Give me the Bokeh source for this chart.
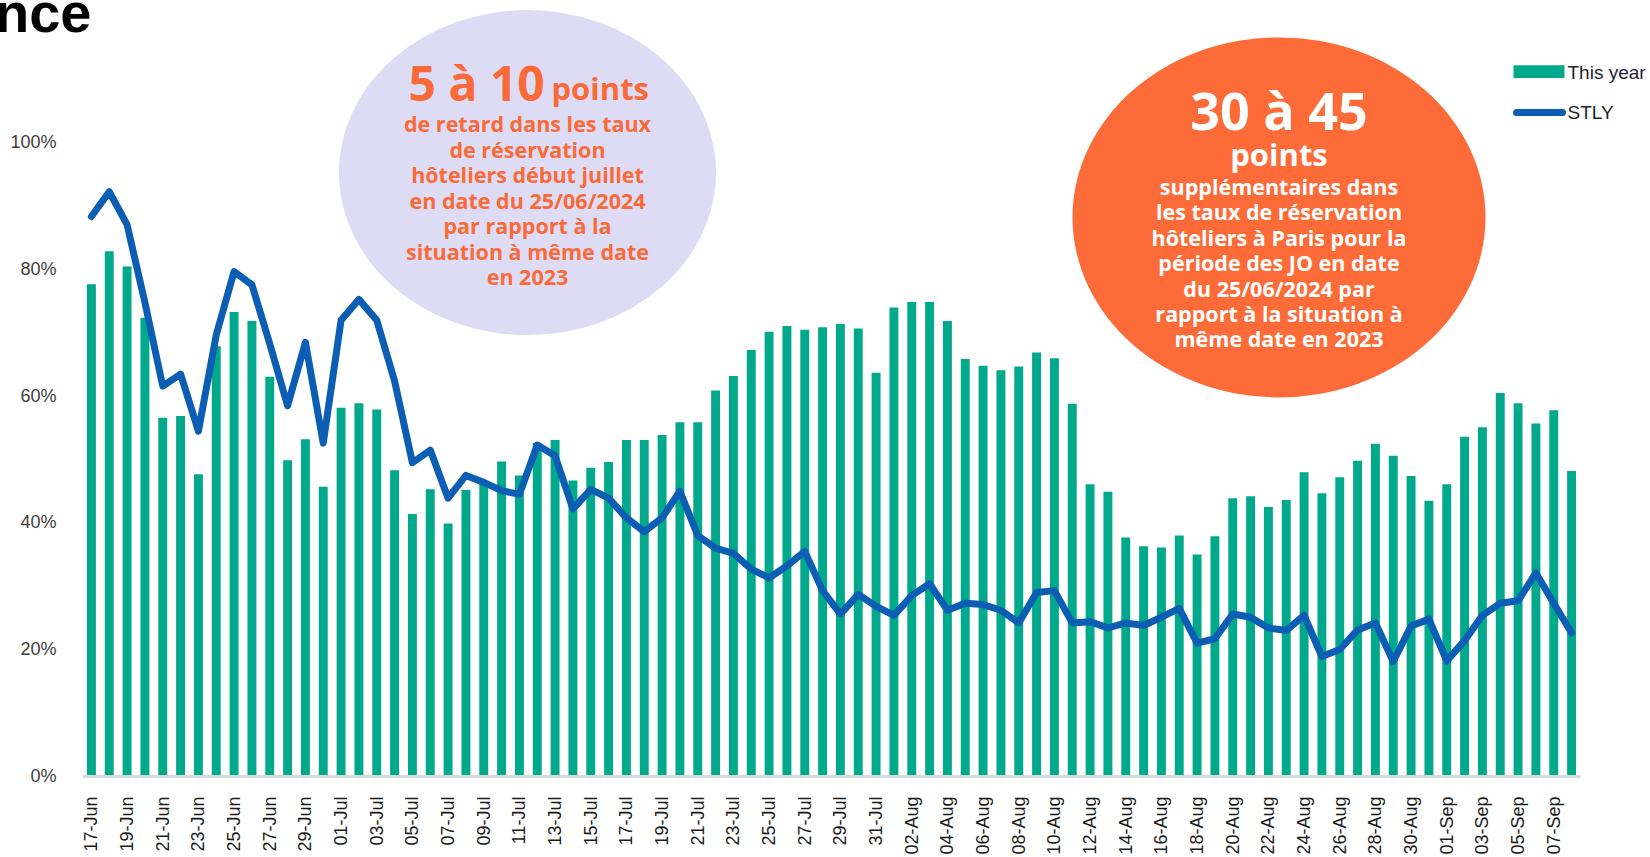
import math
from bokeh.plotting import figure
from bokeh.models import (ColumnDataSource, Range1d, FixedTicker, PrintfTickFormatter, Label,
                          GridBox, Div)
from bokeh.embed import file_html
from bokeh.resources import INLINE

# ---------------- data ----------------
dates = (
    [f"{d:02d}-Jun" for d in range(17, 31)]
    + [f"{d:02d}-Jul" for d in range(1, 32)]
    + [f"{d:02d}-Aug" for d in range(1, 32)]
    + [f"{d:02d}-Sep" for d in range(1, 9)]
)

this_year = [
    77.6, 82.8, 80.4, 72.3, 56.5, 56.8, 47.6, 67.8, 73.2, 71.8, 63.0, 49.8, 53.1, 45.6,
    58.1, 58.8, 57.8, 48.2, 41.3, 45.2, 39.8, 45.1, 46.3, 49.6, 47.4, 52.5, 53.0, 46.6,
    48.6, 49.5, 53.0, 53.0, 53.8, 55.8, 55.8, 60.8, 63.1, 67.2, 70.1, 71.0, 70.4, 70.8,
    71.3, 70.6, 63.6,
    73.9, 74.8, 74.8, 71.8, 65.8, 64.7, 64.0, 64.6, 66.8, 65.9, 58.7, 46.0, 44.8, 37.6,
    36.2, 36.0, 37.9, 34.9, 37.8, 43.8, 44.1, 42.4, 43.5, 47.9, 44.6, 47.1, 49.7, 52.4,
    50.5, 47.3, 43.4,
    46.0, 53.5, 55.0, 60.4, 58.8, 55.6, 57.7, 48.1,
]

stly = [
    88.3, 92.2, 87.0, 74.7, 61.5, 63.4, 54.4, 69.6, 79.6, 77.5, 68.2, 58.4, 68.4, 52.5,
    71.9, 75.2, 71.9, 62.3, 49.4, 51.4, 43.8, 47.4, 46.3, 45.0, 44.4, 52.2, 50.5, 42.1,
    45.2, 43.8, 40.7, 38.5, 40.7, 44.9, 37.9, 35.9, 35.1, 32.6, 31.2, 33.1, 35.4, 29.2,
    25.5, 28.6, 26.7,
    25.3, 28.4, 30.3, 26.1, 27.2, 27.0, 26.1, 24.1, 28.9, 29.2, 24.1, 24.3, 23.3, 24.1,
    23.7, 25.0, 26.4, 20.9, 21.6, 25.5, 25.0, 23.3, 22.9, 25.3, 18.8, 19.9, 23.0, 24.1,
    18.0, 23.6, 24.7,
    18.1, 21.3, 25.3, 27.2, 27.6, 32.0, 27.2, 22.5,
]

y_ticks = [0, 20, 40, 60, 80, 100]
series_names = ["This year", "STLY"]

GREEN = "#00A98B"
BLUE = "#0B5EB3"
ORANGE = "#FD6B38"
LAVENDER = "#DEDCF4"
ORANGE_TXT = "#F96A38"

idx = list(range(len(dates)))
src = ColumnDataSource(dict(x=idx, d=dates, ty=this_year, st=stly))

# ---------------- geometry helpers (page pixel -> data) ----------------
W, H = 1650, 857
FRAME_L = 82.0          # page x of the category axis start
AXIS_END = 1580.0       # page x of the category axis end
ZERO_Y = 779.0          # page y of 0 %
FRAME_B = 782.0
N = len(dates)
PX_PER_CAT = (AXIS_END - FRAME_L) / N
PX_PER_PCT = 6.364


def X(px):
    return -0.5 + (px - FRAME_L) / PX_PER_CAT


def Y(py):
    return (ZERO_Y - py) / PX_PER_PCT


p = figure(
    width=W, height=H,
    x_range=Range1d(-0.5, X(W)), y_range=Range1d(Y(FRAME_B), Y(0)),
    output_backend="svg", toolbar_location=None,
    min_border_left=int(FRAME_L), min_border_right=0,
    min_border_top=0, min_border_bottom=int(H - FRAME_B),
)
p.outline_line_color = None
p.xgrid.grid_line_color = None
p.ygrid.grid_line_color = None
p.background_fill_color = "white"

# ---------------- callout bubbles ----------------
p.ellipse(x=X(527), y=Y(173), width=377, height=325, width_units="screen",
          height_units="screen", fill_color=LAVENDER, line_color=None)
p.ellipse(x=X(1278.5), y=Y(218), width=413, height=360, width_units="screen",
          height_units="screen", fill_color=ORANGE, line_color=None)

# ---------------- bars & line ----------------
p.vbar(x="x", top="ty", width=0.5, bottom=0, source=src, fill_color=GREEN, line_color=None)
p.line(x="x", y="st", source=src, line_color=BLUE, line_width=7,
       line_join="round", line_cap="round")
# category-axis base line (only as long as the categories)
p.segment(x0=[-0.5], x1=[N - 0.5], y0=[Y(ZERO_Y + 1)], y1=[Y(ZERO_Y + 1)],
          line_color="#D9D9D9", line_width=3)

# ---------------- axes ----------------
xa = p.xaxis[0]
xa.ticker = FixedTicker(ticks=list(range(0, N, 2)))
xa.major_label_overrides = {i: dates[i] for i in range(0, N, 2)}
xa.major_label_orientation = math.pi / 2
xa.axis_line_color = None
xa.major_tick_line_color = None
xa.minor_tick_line_color = None
xa.major_label_text_font = "Liberation Sans"
xa.major_label_text_font_size = "18px"
xa.major_label_text_color = "#1A1A1A"
xa.major_label_standoff = 12

ya = p.yaxis[0]
ya.ticker = FixedTicker(ticks=y_ticks)
ya.formatter = PrintfTickFormatter(format="%d%%")
ya.axis_line_color = None
ya.major_tick_line_color = None
ya.minor_tick_line_color = None
ya.major_label_text_font = "Liberation Sans"
ya.major_label_text_font_size = "18px"
ya.major_label_text_color = "#404040"
ya.major_label_standoff = 20

# ---------------- legend (drawn) ----------------
p.quad(left=X(1513), right=X(1564), top=Y(65), bottom=Y(78), fill_color=GREEN, line_color=None)
p.line(x=[X(1516), X(1562)], y=[Y(112.5), Y(112.5)], line_color=BLUE, line_width=7, line_cap="round")
for name, ly in zip(series_names, [72, 113]):
    p.add_layout(Label(x=X(1567), y=Y(ly), text=name, text_font="Liberation Sans",
                       text_font_size="19px", text_color="#1F1F2E", text_baseline="middle",
                       text_align="left"))

# ---------------- bubble texts ----------------
FONT = "Open Sans"
p.add_layout(Label(x=X(408), y=Y(82), text="5 à 10", text_font=FONT, text_font_style="bold",
                   text_font_size="48px", text_color=ORANGE_TXT, text_align="left",
                   text_baseline="middle"))
p.add_layout(Label(x=X(551), y=Y(88), text="points", text_font=FONT, text_font_style="bold",
                   text_font_size="31px", text_color=ORANGE_TXT, text_align="left",
                   text_baseline="middle"))
lav_lines = ["de retard dans les taux", "de réservation", "hôteliers début juillet",
             "en date du 25/06/2024", "par rapport à la", "situation à même date", "en 2023"]
for i, t in enumerate(lav_lines):
    p.add_layout(Label(x=X(527), y=Y(124 + i * 25.6), text=t, text_font=FONT,
                       text_font_style="bold", text_font_size="21.5px", text_color=ORANGE_TXT,
                       text_align="center", text_baseline="middle"))

p.add_layout(Label(x=X(1278.5), y=Y(110), text="30 à 45", text_font=FONT, text_font_style="bold",
                   text_font_size="52px", text_color="white", text_align="center",
                   text_baseline="middle"))
p.add_layout(Label(x=X(1278.5), y=Y(154), text="points", text_font=FONT, text_font_style="bold",
                   text_font_size="31px", text_color="white", text_align="center",
                   text_baseline="middle"))
org_lines = ["supplémentaires dans", "les taux de réservation", "hôteliers à Paris pour la",
             "période des JO en date", "du 25/06/2024 par", "rapport à la situation à",
             "même date en 2023"]
for i, t in enumerate(org_lines):
    p.add_layout(Label(x=X(1278.5), y=Y(187 + i * 25.5), text=t, text_font=FONT,
                       text_font_style="bold", text_font_size="21.5px", text_color="white",
                       text_align="center", text_baseline="middle"))

# ---------------- cropped title fragment (overlaid on the figure's top-left corner) ----------------
title = Div(
    text='<div style="position:relative; left:-10px; top:-20px; font-family:\'Liberation Sans\';'
         ' font-weight:bold; font-size:56px; line-height:1; color:#000; white-space:nowrap;">nce</div>',
    width=110, height=45,
)

layout = GridBox(children=[(p, 0, 0), (title, 0, 0)])

open("out.html", "w").write(file_html(layout, INLINE))
